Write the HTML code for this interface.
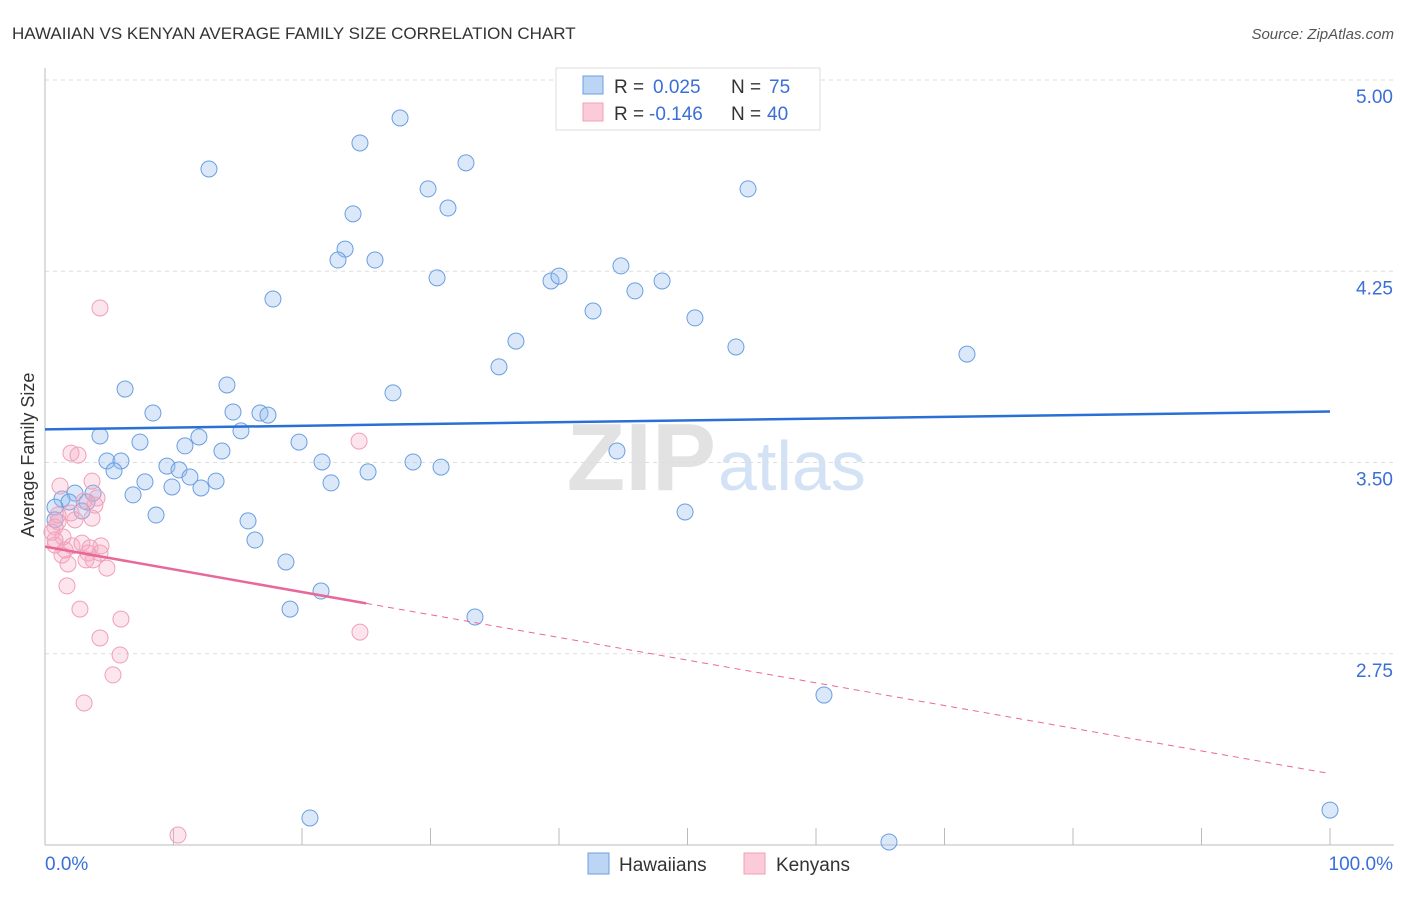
<!DOCTYPE html>
<html><head><meta charset="utf-8"><style>
body{margin:0;background:#fff;font-family:"Liberation Sans",sans-serif;}
svg text{font-family:"Liberation Sans",sans-serif;}
</style></head><body>
<svg id="chart" width="1406" height="892" xmlns="http://www.w3.org/2000/svg">
<text x="12" y="39" font-size="17" fill="#333">HAWAIIAN VS KENYAN AVERAGE FAMILY SIZE CORRELATION CHART</text>
<text x="1394" y="39" font-size="15" fill="#555" font-style="italic" text-anchor="end">Source: ZipAtlas.com</text>
<text x="716" y="490" font-size="96" fill="#e2e2e2" text-anchor="end" font-family="Liberation Serif" font-weight="bold">ZIP</text>
<text x="718" y="490" font-size="70" fill="#d3e2f5">atlas</text>
<g id="grid"></g>
<g id="axes"></g>
<g id="marks"></g>
<text transform="translate(34,455) rotate(-90)" font-size="18" fill="#333" text-anchor="middle">Average Family Size</text>
<g>
<rect x="556" y="68" width="264" height="62" fill="#fff" stroke="#ddd"/>
<rect x="583" y="76" width="20" height="18" fill="#bcd5f5" stroke="#6a9fe0"/>
<text x="614" y="93" font-size="19" fill="#333">R =</text>
<text x="653" y="93" font-size="19" fill="#3a6fd8">0.025</text>
<text x="731" y="93" font-size="19" fill="#333">N =</text>
<text x="769" y="93" font-size="19" fill="#3a6fd8">75</text>
<rect x="583" y="103" width="20" height="18" fill="#fbcbd9" stroke="#f0a0b8"/>
<text x="614" y="120" font-size="19" fill="#333">R =</text>
<text x="649" y="120" font-size="19" fill="#3a6fd8">-0.146</text>
<text x="731" y="120" font-size="19" fill="#333">N =</text>
<text x="767" y="120" font-size="19" fill="#3a6fd8">40</text>
</g>
<g>
<rect x="588" y="853" width="21" height="21" fill="#bcd5f5" stroke="#6a9fe0"/>
<text x="619" y="871" font-size="19" fill="#333">Hawaiians</text>
<rect x="744" y="853" width="21" height="21" fill="#fbcbd9" stroke="#f0a0b8"/>
<text x="776" y="871" font-size="19" fill="#333">Kenyans</text>
</g>
</svg>
<script>
const yTicks=[2.75,3.50,4.25,5.00];
const yTickLabels=["2.75","3.50","4.25","5.00"];
const xTickLabels=["0.0%","100.0%"];
const bluePx=[[400,118],[360,143],[209,169],[466,163],[428,189],[448,208],[353,214],[748,189],[345,249],[338,260],[375,260],[437,278],[551,281],[559,276],[621,266],[662,281],[635,291],[273,299],[593,311],[695,318],[516,341],[736,347],[967,354],[499,367],[125,389],[227,385],[393,393],[153,413],[233,412],[260,413],[268,415],[241,431],[100,436],[140,442],[199,437],[185,446],[299,442],[222,451],[617,451],[107,461],[121,461],[167,466],[179,470],[114,471],[322,462],[413,462],[441,467],[368,472],[190,477],[145,482],[172,487],[216,481],[201,488],[331,483],[133,495],[75,493],[62,499],[69,502],[87,502],[93,493],[55,507],[82,511],[156,515],[685,512],[248,521],[55,520],[255,540],[286,562],[321,591],[290,609],[475,617],[824,695],[310,818],[1330,810],[889,842]];
const pinkPx=[[100,308],[71,453],[78,455],[359,441],[92,481],[60,486],[97,498],[84,501],[71,513],[92,518],[58,522],[55,527],[52,532],[63,537],[72,546],[82,543],[101,546],[88,553],[55,545],[62,555],[93,560],[68,564],[107,568],[67,586],[80,609],[121,619],[100,638],[120,655],[113,675],[84,703],[360,632],[178,835],[55,540],[65,550],[90,548],[75,520],[58,515],[86,560],[95,505],[100,553]];
const hawX=bluePx.map(p=>+((p[0]-45)/12.85).toFixed(2));
const hawY=bluePx.map(p=>+(5-(p[1]-80)/255).toFixed(3));
const kenX=pinkPx.map(p=>+((p[0]-45)/12.85).toFixed(2));
const kenY=pinkPx.map(p=>+(5-(p[1]-80)/255).toFixed(3));
const hawTrend=[3.63,3.70];
const kenTrend=[3.17,2.28];
const kenSolidEnd=25;
const NS="http://www.w3.org/2000/svg";
const X=v=>45+v*12.85, Y=v=>80+(5-v)*255;
function mk(tag,attrs,parent){const e=document.createElementNS(NS,tag);for(const k in attrs)e.setAttribute(k,attrs[k]);parent.appendChild(e);return e;}
const grid=document.getElementById('grid'),axes=document.getElementById('axes'),marks=document.getElementById('marks');
yTicks.forEach((t,i)=>{
 const l=mk('line',{x1:45,x2:1394,y1:Y(t),y2:Y(t),stroke:'#ddd','stroke-dasharray':'4,4'},grid);
 
 
 const tx=mk('text',{x:1393,y:Y(t)+23,'font-size':19,fill:'#3a6fd8','text-anchor':'end'},axes);
 tx.textContent=yTickLabels[i];
 
 
});
const ax=mk('line',{x1:45,x2:1394,y1:845,y2:845,stroke:'#bbb'},axes);


const ay=mk('line',{x1:45,x2:45,y1:68,y2:845,stroke:'#bbb'},axes);


for(let i=1;i<=10;i++){const t=mk('line',{x1:X(i*10),x2:X(i*10),y1:828,y2:845,stroke:'#bbb'},axes);
 
 }
const xl0=mk('text',{x:45,y:870,'font-size':19,fill:'#3a6fd8'},axes);xl0.textContent=xTickLabels[0];


const xl1=mk('text',{x:1393,y:870,'font-size':19,fill:'#3a6fd8','text-anchor':'end'},axes);xl1.textContent=xTickLabels[1];


hawX.forEach((x,i)=>{const c=mk('circle',{cx:X(x),cy:Y(hawY[i]),r:8,fill:'rgba(150,190,240,0.35)',stroke:'#6a9fe0','stroke-width':1},marks);
 
 });
kenX.forEach((x,i)=>{const c=mk('circle',{cx:X(x),cy:Y(kenY[i]),r:8,fill:'rgba(245,170,195,0.3)',stroke:'#f0a0b8','stroke-width':1},marks);
 
 });
const ht=mk('line',{x1:X(0),y1:Y(hawTrend[0]),x2:X(100),y2:Y(hawTrend[1]),stroke:'#2a6fd6','stroke-width':2.5},marks);


const kAt=x=>kenTrend[0]+(kenTrend[1]-kenTrend[0])*x/100;
const ks=mk('line',{x1:X(0),y1:Y(kAt(0)),x2:X(kenSolidEnd),y2:Y(kAt(kenSolidEnd)),stroke:'#e8689a','stroke-width':2.5},marks);


const kd=mk('line',{x1:X(kenSolidEnd),y1:Y(kAt(kenSolidEnd)),x2:X(100),y2:Y(kAt(100)),stroke:'#e8689a','stroke-width':1,'stroke-dasharray':'6,5'},marks);


</script>
</body></html>
